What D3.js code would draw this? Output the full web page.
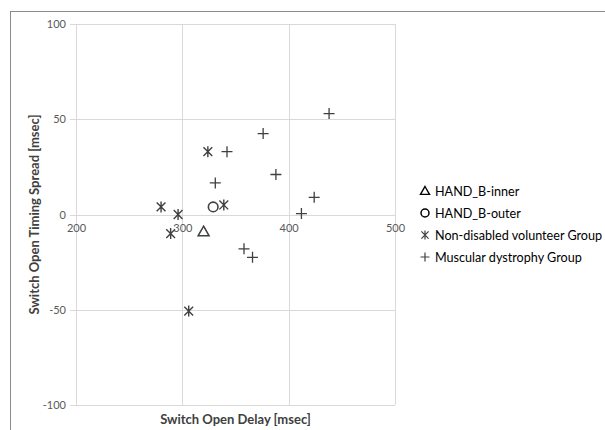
<!DOCTYPE html>
<html><head><meta charset="utf-8">
<script src="https://cdn.jsdelivr.net/npm/d3@7"></script>
<style>body{margin:0;background:#fff;} svg{display:block;}</style>
</head><body>
<script>
const xTicks = [200, 300, 400, 500];
const yTicks = [-100, -50, 0, 50, 100];
const seriesNames = ["HAND_B-inner", "HAND_B-outer", "Non-disabled volunteer Group", "Muscular dystrophy Group"];
const handInner = [[320, -9]];
const handOuter = [[329, 4]];
const nonDisabled = [[280, 4], [289, -10], [296, 0], [306, -50.7], [324, 33], [339, 5]];
const muscular = [[331, 16.6], [342, 33], [358, -18], [366, -22.5], [376, 42.5], [388, 21], [412, 0.5], [424, 9], [438, 53]];

const W = 605, H = 430;
const svg = d3.select("body").append("svg").attr("width", W).attr("height", H);
const ink = "#404040";
const font = "Lato, 'Open Sans', sans-serif";

// outer chart border
svg.append("rect").attr("x", 10.5).attr("y", 11.5).attr("width", 700).attr("height", 500)
  .attr("fill", "none").attr("stroke", "#8c8c8c").attr("stroke-width", 1);

const x = d3.scaleLinear().domain([200, 500]).range([76, 395]);
const y = d3.scaleLinear().domain([-100, 100]).range([405, 24]);

// gridlines
const g = svg.append("g");
g.selectAll(".vg").data(xTicks).join("line")
  .attr("x1", d => Math.round(x(d)) + 0.5).attr("x2", d => Math.round(x(d)) + 0.5)
  .attr("y1", y(100)).attr("y2", y(-100)).attr("stroke", "#d9d9d9").attr("stroke-width", 1);
g.selectAll(".hg").data(yTicks).join("line")
  .attr("y1", d => Math.round(y(d)) + 0.5).attr("y2", d => Math.round(y(d)) + 0.5)
  .attr("x1", x(200) - 6).attr("x2", x(500)).attr("stroke", "#d9d9d9").attr("stroke-width", 1);

// y axis labels via d3 axis
const yAxis = d3.axisLeft(y).tickValues(yTicks).tickSize(0).tickPadding(0).tickFormat(d => String(d));
const ya = svg.append("g").attr("transform", "translate(66,0)").call(yAxis);
ya.select(".domain").remove();
ya.selectAll("text").attr("fill", "#595959").style("font-family", font).style("font-size", "11px");

// x axis labels at y=0 crossing
const xAxis = d3.axisBottom(x).tickValues(xTicks).tickSize(0).tickPadding(0).tickFormat(d => String(d));
const xa = svg.append("g").attr("transform", `translate(0,${y(0) + 10})`).call(xAxis);
xa.select(".domain").remove();
xa.selectAll("text").attr("fill", "#595959").style("font-family", font).style("font-size", "11px");

// axis titles
svg.append("text").attr("x", (x(200) + x(500)) / 2).attr("y", 424).attr("text-anchor", "middle")
  .attr("fill", ink).style("font-family", font).style("font-weight", "bold").style("font-size", "13px")
  .text("Switch Open Delay [msec]");
svg.append("text").attr("transform", `translate(39,${(y(100) + y(-100)) / 2}) rotate(-90)`).attr("text-anchor", "middle")
  .attr("fill", ink).style("font-family", font).style("font-weight", "bold").style("font-size", "13px")
  .text("Switch Open Timing Spread [msec]");

// marker path generators
function plusPath(s) { const h = s / 2; return `M${-h},0H${h}M0,${-h}V${h}`; }
function starPath(s) { const h = s / 2, d = h * 0.8; return `M${-d},${-d}L${d},${d}M${-d},${d}L${d},${-d}M0,${-h}V${h}`; }
function triPath(s) { const h = s / 2; return `M0,${-h}L${h},${h * 0.75}L${-h},${h * 0.75}Z`; }

const marks = svg.append("g");
marks.selectAll(".tri").data(handInner).join("path")
  .attr("transform", d => `translate(${x(d[0])},${y(d[1])})`).attr("d", triPath(11))
  .attr("fill", "none").attr("stroke", ink).attr("stroke-width", 1.5);
marks.selectAll(".circ").data(handOuter).join("circle")
  .attr("cx", d => x(d[0])).attr("cy", d => y(d[1])).attr("r", 4.8)
  .attr("fill", "none").attr("stroke", ink).attr("stroke-width", 1.6);
marks.selectAll(".star").data(nonDisabled).join("path")
  .attr("transform", d => `translate(${x(d[0])},${y(d[1])})`).attr("d", starPath(11))
  .attr("fill", "none").attr("stroke", ink).attr("stroke-width", 1.4);
marks.selectAll(".plus").data(muscular).join("path")
  .attr("transform", d => `translate(${x(d[0])},${y(d[1])})`).attr("d", plusPath(11))
  .attr("fill", "none").attr("stroke", ink).attr("stroke-width", 1.3);

// legend
const leg = svg.append("g");
const legY = [191, 213, 235, 257];
const legMarks = [
  gg => gg.append("path").attr("d", triPath(9)).attr("fill", "none").attr("stroke", "#000").attr("stroke-width", 1.4),
  gg => gg.append("circle").attr("r", 4).attr("fill", "none").attr("stroke", "#000").attr("stroke-width", 1.5),
  gg => gg.append("path").attr("d", starPath(9)).attr("fill", "none").attr("stroke", ink).attr("stroke-width", 1.2),
  gg => gg.append("path").attr("d", plusPath(9)).attr("fill", "none").attr("stroke", ink).attr("stroke-width", 1.2)
];
seriesNames.forEach((n, i) => {
  const gg = leg.append("g").attr("transform", `translate(425,${legY[i]})`);
  legMarks[i](gg);
  gg.append("text").attr("x", 10).attr("y", 4.5).attr("fill", "#000")
    .style("font-family", font).style("font-size", "12.6px").text(n);
});
</script>
</body></html>
